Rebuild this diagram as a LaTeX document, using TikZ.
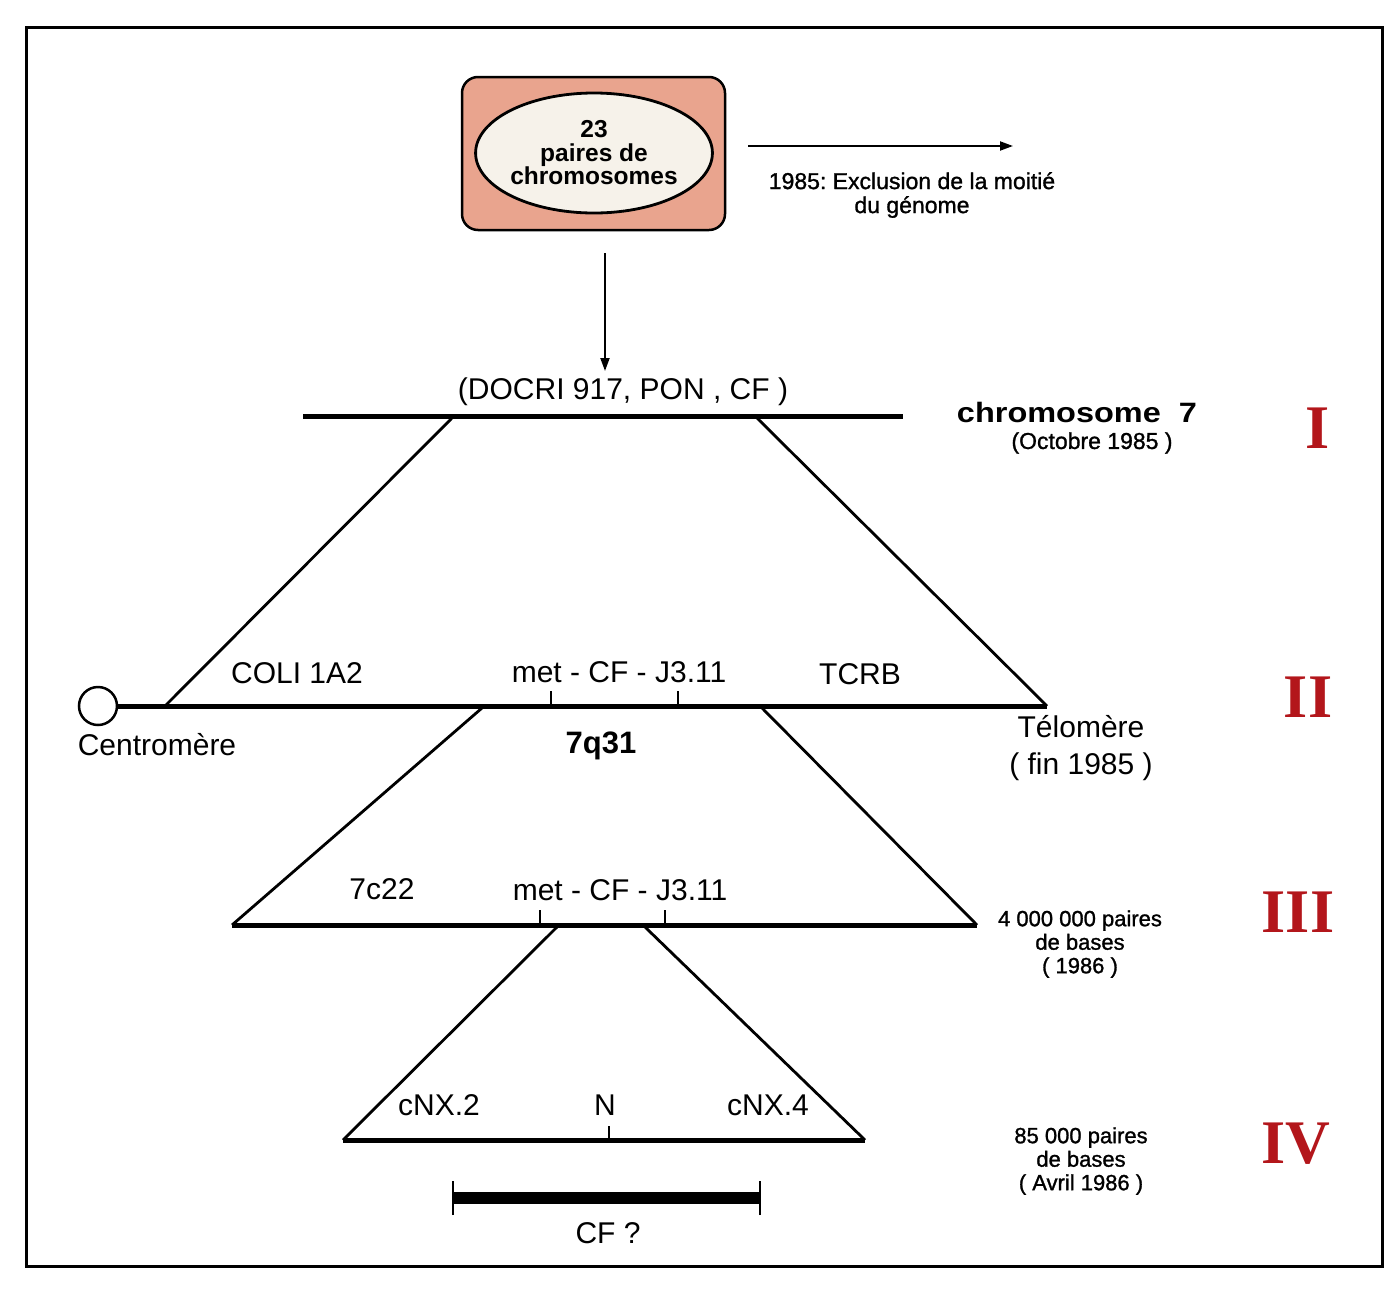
\documentclass[tikz,border=0pt]{standalone}
\usepackage{fontspec}
\setmainfont{Liberation Sans}
\newfontfamily\medfont[FakeBold=1.2]{Liberation Sans}
\newfontfamily\romanfont{Liberation Serif}
\usetikzlibrary{arrows.meta,shapes.geometric}
\frenchspacing
\definecolor{boxfill}{HTML}{E9A48E}
\definecolor{ellfill}{HTML}{F6F2EA}
\definecolor{numred}{HTML}{B3161B}
\tikzset{
  lbl/.style={inner sep=0pt,font=\fontsize{30}{32}\selectfont},
  side/.style={inner sep=0pt,align=center,font=\medfont\fontsize{22}{23.5}\selectfont},
  numeral/.style={inner sep=0pt,text=numred,font=\romanfont\bfseries\fontsize{62}{62}\selectfont},
  chrom/.style={line width=5pt},
  leg/.style={line width=2.8pt},
  tick/.style={line width=2pt},
  arr/.style={line width=2pt,-{Triangle[length=13pt,width=9pt]}}
}
\begin{document}
\begin{tikzpicture}[x=1pt,y=-1pt]
\useasboundingbox (0,0) rectangle (1396,1288);
% frame
\draw[line width=3pt] (26,27) rectangle (1382,1266);

% top box
\node[draw,line width=2.5pt,rounded corners=16pt,fill=boxfill,minimum width=263pt,minimum height=153pt,inner sep=0pt] (box) at (593.5,153.5) {};
\node[draw,ellipse,line width=2.8pt,fill=ellfill,minimum width=212pt,minimum height=120pt,inner sep=0pt,align=center,font=\bfseries\fontsize{24.5}{23.5}\selectfont] (ell) at (594,153) {23\\paires de\\chromosomes};

% arrow right
\coordinate (ra) at (748,146);
\coordinate (rb) at (1013,146);
\draw[arr] (ra) -- (rb);
\node[side,font=\medfont\fontsize{23}{24}\selectfont] (excl) at (912,195) {1985: Exclusion de la moitié\\du génome};

% arrow down
\coordinate (da) at (605,253);
\coordinate (db) at (605,371);
\draw[arr] (da) -- (db);

% level I
\node[lbl] (docri) at (623,392) {(DOCRI 917, PON , CF )};
\coordinate (L1a) at (303,416);
\coordinate (L1b) at (903,416);
\draw[chrom] (L1a) -- (L1b);
\node[inner sep=0pt,font=\bfseries\fontsize{28}{30}\selectfont] (chr7) at (1077,412) {\scalebox{1.16}[1]{chromosome\ \ 7}};
\node[inner sep=0pt,font=\medfont\fontsize{23}{24}\selectfont] (oct) at (1092,443) {(Octobre 1985 )};
\node[numeral] (n1) at (1318,428) {I};

% legs I -> II
\coordinate (t1l) at (452,418);
\coordinate (t1r) at (757,418);
\coordinate (b1l) at (165,706);
\coordinate (b1r) at (1047,706);
\draw[leg] (t1l) -- (b1l);
\draw[leg] (t1r) -- (b1r);

% level II
\node[draw,circle,line width=2.5pt,fill=white,minimum size=38pt,inner sep=0pt] (centro) at (98,706) {};
\draw[chrom] (centro.east) -- (b1r);
\coordinate (k1) at (551,706);
\coordinate (k1t) at (551,691);
\coordinate (k2) at (678,706);
\coordinate (k2t) at (678,691);
\draw[tick] (k1) -- (k1t);
\draw[tick] (k2) -- (k2t);
\node[lbl] (coli) at (297,673) {COLI 1A2};
\node[lbl] (met1) at (619,672) {met - CF - J3.11};
\node[lbl] (tcrb) at (860,674) {TCRB};
\node[lbl] (cenlbl) at (157,745) {Centromère};
\node[inner sep=0pt,font=\bfseries\fontsize{31}{32}\selectfont] (q31) at (601,746) {7q31};
\node[lbl,align=center,font=\fontsize{30}{37}\selectfont] (telo) at (1081,748) {Télomère\\( fin 1985 )};
\node[numeral] (n2) at (1308,697) {II};

% legs II -> III
\coordinate (t2l) at (482,708);
\coordinate (t2r) at (762,708);
\coordinate (b2l) at (232,925);
\coordinate (b2r) at (977,925);
\draw[leg] (t2l) -- (b2l);
\draw[leg] (t2r) -- (b2r);

% level III
\draw[chrom] (b2l) -- (b2r);
\coordinate (k3) at (540,925);
\coordinate (k3t) at (540,910);
\coordinate (k4) at (665,925);
\coordinate (k4t) at (665,910);
\draw[tick] (k3) -- (k3t);
\draw[tick] (k4) -- (k4t);
\node[lbl] (c22) at (382,889) {7c22};
\node[lbl] (met2) at (620,890) {met - CF - J3.11};
\node[side] (pb4m) at (1080,944) {4 000 000 paires\\de bases\\( 1986 )};
\node[numeral] (n3) at (1298,912) {III};

% legs III -> IV
\coordinate (t3l) at (557,927);
\coordinate (t3r) at (645,927);
\coordinate (b3l) at (343,1140);
\coordinate (b3r) at (865,1140);
\draw[leg] (t3l) -- (b3l);
\draw[leg] (t3r) -- (b3r);

% level IV
\draw[chrom] (b3l) -- (b3r);
\coordinate (k5) at (609,1140);
\coordinate (k5t) at (609,1126);
\draw[tick] (k5) -- (k5t);
\node[lbl] (cnx2) at (439,1105) {cNX.2};
\node[lbl] (nlbl) at (605,1105) {N};
\node[lbl] (cnx4) at (768,1105) {cNX.4};
\node[side] (pb85) at (1081,1161) {85 000 paires\\de bases\\( Avril 1986 )};
\node[numeral] (n4) at (1296,1144) {IV};

% CF bar
\coordinate (ba) at (453,1198);
\coordinate (bb) at (760,1198);
\draw[line width=12pt] (ba) -- (bb);
\draw[tick] ([yshift=-17pt]ba) -- ([yshift=17pt]ba);
\draw[tick] ([yshift=-17pt]bb) -- ([yshift=17pt]bb);
\node[lbl] (cfq) at (608,1233) {CF ?};
\end{tikzpicture}
\end{document}
